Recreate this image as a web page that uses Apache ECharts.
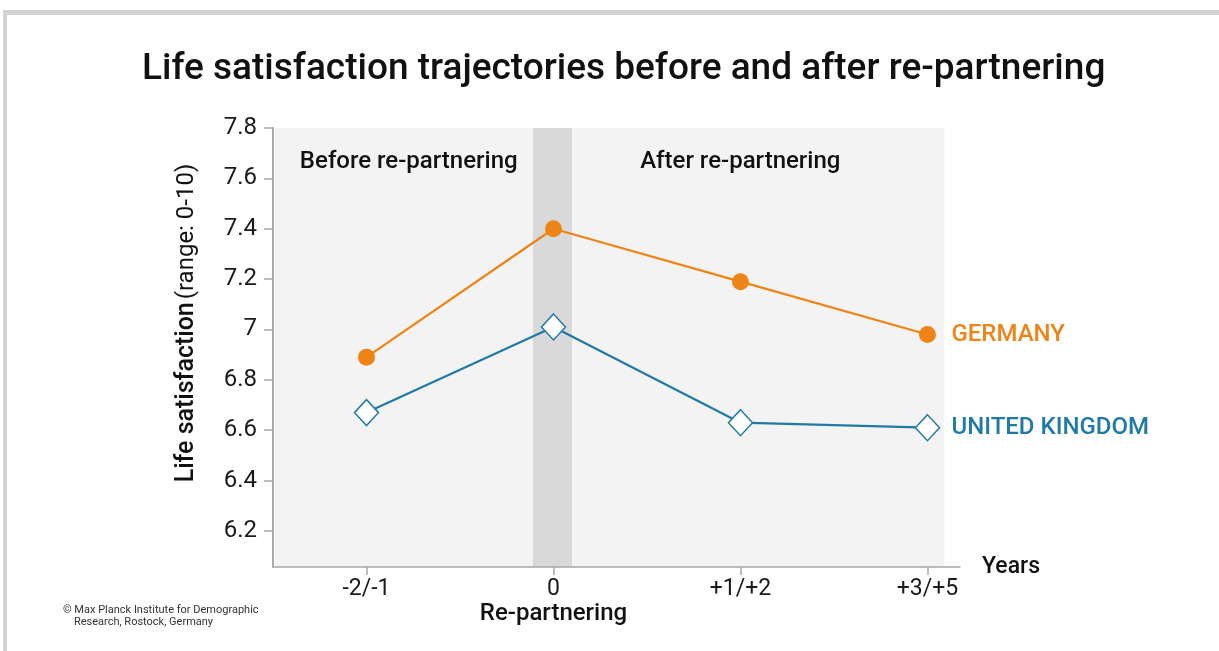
<!DOCTYPE html>
<html>
<head>
<meta charset="utf-8">
<script src="https://cdn.jsdelivr.net/npm/echarts@6/dist/echarts.min.js"></script>
<style>
  body { margin: 0; background: #fff; }
  .frame { position: absolute; left: 3px; top: 10px; width: 1216px; height: 641px;
           border-top: 5px solid #d3d3d3; border-left: 4px solid #d3d3d3; box-sizing: border-box; }
  #chart { position: absolute; left: 0; top: 0; width: 1219px; height: 651px; }
</style>
</head>
<body>
<div class="frame"></div>
<div id="chart"></div>
<script>
// periods around re-partnering, plotted at positions 0..3
const periods = ['-2/-1', '0', '+1/+2', '+3/+5'];
const positions = [0, 1, 2, 3];
const germany = [6.89, 7.40, 7.19, 6.98];
const unitedKingdom = [6.67, 7.01, 6.63, 6.61];
const yTicks = [6.2, 6.4, 6.6, 6.8, 7.0, 7.2, 7.4, 7.6, 7.8];

const font = 'Roboto';
const orange = '#ef8416';
const blue = '#1f7aa6';
const axisGray = '#a8a8a8';

let chart = echarts.init(document.getElementById('chart'));

chart.setOption({
    animation: false,
    textStyle: { fontFamily: font },
    title: [{
        text: 'Life satisfaction trajectories before and after re-partnering',
        left: 137,
        top: 46,
        textStyle: { fontFamily: font, fontSize: 37, fontWeight: 500, color: '#111' }
    }, {
        text: '© Max Planck Institute for Demographic\n    Research, Rostock, Germany',
        left: 58,
        top: 599,
        textStyle: { fontFamily: font, fontSize: 11, fontWeight: 'normal', color: '#333', lineHeight: 12 }
    }],
    grid: { left: 273, top: 128, right: 259, bottom: 84 },
    xAxis: {
        type: 'value',
        min: -0.5,
        max: 3.174,
        z: 10,
        name: 'Years',
        nameLocation: 'end',
        nameGap: 22,
        nameTextStyle: { fontFamily: font, fontSize: 23, fontWeight: 500, color: '#111' },
        splitLine: { show: false },
        axisLine: { onZero: false, lineStyle: { color: axisGray, width: 1.5 } },
        axisTick: { customValues: positions, length: 8, lineStyle: { color: axisGray, width: 1.5 } },
        axisLabel: {
            customValues: positions,
            margin: 11,
            fontSize: 23,
            color: '#1a1a1a',
            formatter: function (v) {
                let name = periods[Math.round(v)];
                return name === '0' ? '0\n{b|Re-partnering}' : name;
            },
            rich: { b: { fontFamily: font, fontSize: 24, fontWeight: 500, color: '#111', lineHeight: 26 } }
        }
    },
    yAxis: {
        type: 'value',
        position: 'left',
        min: 6.057,
        max: 7.8,
        z: 10,
        name: '{b|Life satisfaction} {n|(range: 0-10)}',
        nameLocation: 'middle',
        nameRotate: 90,
        nameGap: 74,
        nameTextStyle: {
            padding: [0, 0, 0, 49],
            rich: {
                b: { fontFamily: font, fontSize: 25, fontWeight: 500, color: '#111' },
                n: { fontFamily: font, fontSize: 24, color: '#111' }
            }
        },
        splitLine: { show: false },
        axisLine: { show: true, onZero: false, lineStyle: { color: axisGray, width: 2 } },
        axisTick: { show: true, customValues: yTicks, length: 9, lineStyle: { color: axisGray, width: 1.5 } },
        axisLabel: {
            customValues: yTicks,
            margin: 16,
            fontSize: 24,
            color: '#1a1a1a',
            formatter: function (v) { return Math.abs(v - 7) < 1e-6 ? '7' : v.toFixed(1); }
        }
    },
    series: [{
        // shaded periods only
        type: 'line',
        data: [],
        z: 0,
        markArea: {
            silent: true,
            z: 0,
            data: [
                [{ xAxis: -0.49, yAxis: 6.057, itemStyle: { color: '#f3f3f3' },
                   label: { show: true, formatter: 'Before re-partnering', position: 'insideTopLeft', offset: [20, 17],
                            fontFamily: font, fontSize: 24, fontWeight: 500, color: '#111' } },
                 { xAxis: 0.89, yAxis: 7.8 }],
                [{ xAxis: 0.89, yAxis: 6.057, itemStyle: { color: '#d9d9d9' }, label: { show: false } },
                 { xAxis: 1.1, yAxis: 7.8 }],
                [{ xAxis: 1.1, yAxis: 6.057, itemStyle: { color: '#f3f3f3' },
                   label: { show: true, formatter: 'After re-partnering', position: 'insideTopLeft', offset: [63, 17],
                            fontFamily: font, fontSize: 24, fontWeight: 500, color: '#111' } },
                 { xAxis: 3.09, yAxis: 7.8 }]
            ]
        }
    }, {
        name: 'GERMANY',
        type: 'line',
        data: positions.map((p, i) => [p, germany[i]]),
        symbol: 'circle',
        symbolSize: 17,
        z: 3,
        itemStyle: { color: orange },
        lineStyle: { color: orange, width: 2.2 },
        endLabel: {
            show: true,
            formatter: 'GERMANY',
            distance: 24,
            fontFamily: font,
            fontSize: 24,
            fontWeight: 500,
            color: orange
        }
    }, {
        name: 'UNITED KINGDOM',
        type: 'line',
        data: positions.map((p, i) => [p, unitedKingdom[i]]),
        symbol: 'diamond',
        symbolSize: [24, 26],
        z: 3,
        itemStyle: { color: '#fff', borderColor: blue, borderWidth: 1.5 },
        lineStyle: { color: blue, width: 2.2 },
        endLabel: {
            show: true,
            formatter: 'UNITED KINGDOM',
            distance: 24,
            fontFamily: font,
            fontSize: 24,
            fontWeight: 500,
            color: blue
        }
    }]
});
</script>
</body>
</html>
